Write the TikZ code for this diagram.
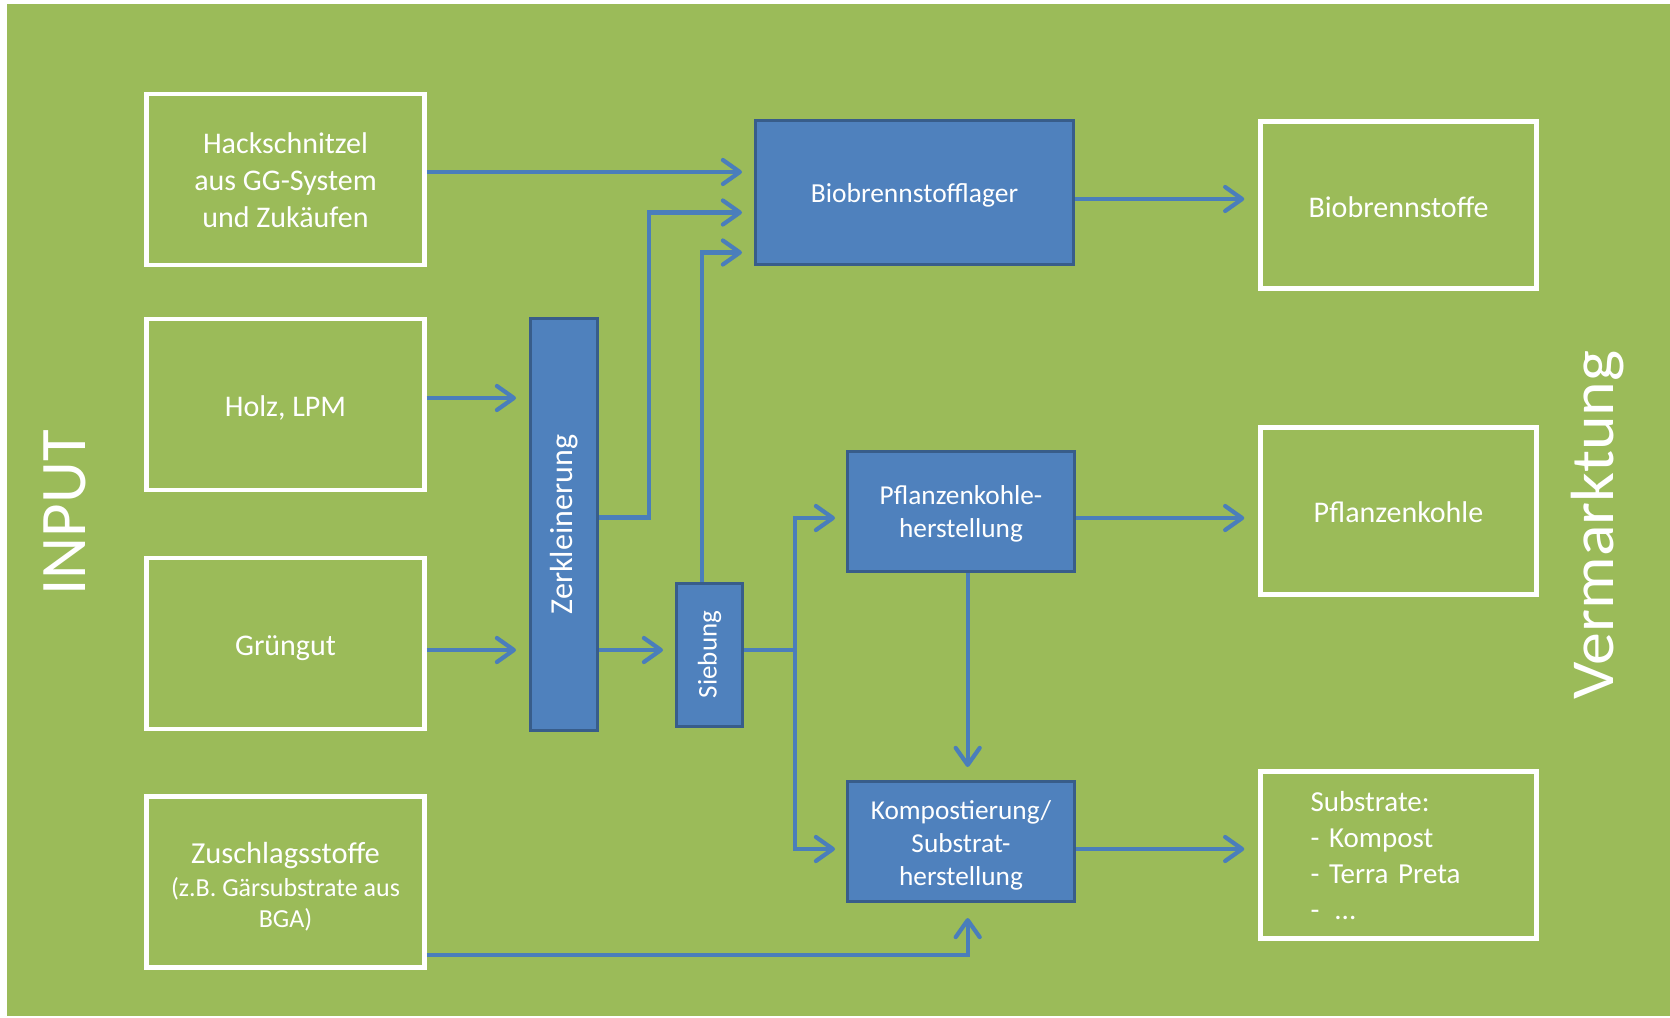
\documentclass[tikz,border=0pt]{standalone}
\usepackage{fontspec}
\setmainfont{Carlito}
\usetikzlibrary{arrows.meta,calc}
\definecolor{bggreen}{HTML}{9BBB59}
\definecolor{boxblue}{HTML}{4F81BD}
\definecolor{boxedge}{HTML}{385D8A}
\definecolor{arrowblue}{HTML}{4A7EBB}
\newcommand{\lowr}[2]{\raisebox{-#1}[\height][\depth]{#2}}
\begin{document}
\begin{tikzpicture}[x=1pt,y=-1pt,
  inbox/.style={draw=white,line width=4.5pt,minimum width=278pt,minimum height=171pt,inner sep=0pt,text=white,align=center,font=\fontsize{30}{36.7}\selectfont},
  outbox/.style={draw=white,line width=4.5pt,minimum width=276pt,minimum height=167pt,inner sep=0pt,text=white,align=center,font=\fontsize{30}{36}\selectfont},
  procbox/.style={draw=boxedge,fill=boxblue,line width=3pt,inner sep=0pt,text=white,align=center,font=\fontsize{27.3}{33}\selectfont},
  sidelabel/.style={text=white,inner sep=0pt,rotate=90,anchor=base},
  arr/.style={draw=arrowblue,line width=4.2pt,-{Straight Barb[length=17pt,width=24pt,round]}}
]
\useasboundingbox (0,0) rectangle (1670,1017);
\fill[white] (0,0) rectangle (1670,1017);
\fill[bggreen] (7,4) rectangle (1670,1016);

% input boxes
\node[inbox] (hack) at (285.5,179.5) {\lowr{0.5pt}{Hackschnitzel}\\\lowr{0.5pt}{aus GG-System}\\\lowr{0.5pt}{und Zukäufen}};
\node[inbox] (holz) at (285.5,404.5) {\lowr{3.2pt}{Holz, LPM}};
\node[inbox] (gruen) at (285.5,643.5) {\lowr{4.2pt}{Grüngut}};
\node[inbox,font=\fontsize{26}{31}\selectfont] (zusch) at (285.5,882) {\lowr{4.3pt}{\fontsize{30.5}{33}\selectfont Zuschlagsstoffe}\\[2pt]\lowr{4.3pt}{(z.B. Gärsubstrate aus}\\\lowr{4.3pt}{BGA)}};

% process boxes
\node[procbox,minimum width=318pt,minimum height=144pt,font=\fontsize{27.5}{33}\selectfont] (lager) at (914.5,192.5) {\lowr{3.2pt}{Biobrennstofflager}};
\node[procbox,minimum width=67pt,minimum height=412pt,font=\fontsize{32}{38}\selectfont] (zerk) at (564,524.5) {\rotatebox{90}{Zerkleinerung}};
\node[procbox,minimum width=66pt,minimum height=143pt,font=\fontsize{27}{33}\selectfont] (sieb) at (709.5,654.5) {\rotatebox{90}{Siebung}};
\node[procbox,minimum width=227pt,minimum height=120pt] (pkh) at (961,511) {\lowr{2.7pt}{Pflanzenkohle-}\\\lowr{2.7pt}{herstellung}};
\node[procbox,minimum width=227pt,minimum height=120pt] (komp) at (961,841.5) {\lowr{3.7pt}{Kompostierung/}\\\lowr{3.7pt}{Substrat-}\\\lowr{3.7pt}{herstellung}};

% output boxes
\node[outbox] (bio) at (1398.5,205) {\lowr{2pt}{Biobrennstoffe}};
\node[outbox] (pk) at (1398.5,510.8) {\lowr{1.5pt}{Pflanzenkohle}};
\node[outbox,align=left,text width=176pt,inner xsep=50pt,font=\fontsize{29}{36}\selectfont] (sub) at (1398.5,855) {\lowr{1pt}{Substrate:}\\\lowr{1pt}{- Kompost}\\\lowr{1pt}{- Terra Preta}\\\lowr{1pt}{-\hspace{15pt}...}};

% side labels
\node[sidelabel,font=\fontsize{65}{70}\selectfont] (input) at (85,513) {INPUT};
\node[sidelabel,font=\fontsize{61}{66}\selectfont] (verm) at (1613,525) {\scalebox{1.08}[1]{Vermarktung}};

% connectors
\draw[arr,shorten >=12pt] ($(hack.east)+(0,-7.5)$) -- ($(lager.west)+(0,-20.5)$);
\draw[arr,shorten >=12pt] ($(zerk.east)+(0,-7)$) -| ($(lager.west)+(-105,20)$) -- ($(lager.west)+(0,20)$);
\draw[arr,shorten >=12pt] ($(sieb.north)+(-7.5,0)$) |- ($(lager.west)+(0,60)$);
\draw[arr,shorten >=13pt] ($(holz.east)+(0,-6.5)$) -- ($(holz.east -| zerk.west)+(0,-6.5)$);
\draw[arr,shorten >=13pt] ($(gruen.east)+(0,6.5)$) -- ($(gruen.east -| zerk.west)+(0,6.5)$);
\draw[arr,shorten >=12pt] ($(zerk.east)+(0,125.5)$) -- ($(sieb.west)+(0,-4.5)$);
\draw[arr,shorten >=11pt] ($(sieb.east)+(0,-4.5)$) -| ($(pkh.west)+(-51,7)$) -- ($(pkh.west)+(0,7)$);
\draw[arr,shorten >=11pt] ($(sieb.east)+(0,-4.5)$) -| ($(komp.west)+(-51,7.5)$) -- ($(komp.west)+(0,7.5)$);
\draw[arr,shorten >=13pt] ($(pkh.south)+(6.7,0)$) -- ($(komp.north)+(6.7,0)$);
\draw[arr,shorten >=15pt] ($(zusch.east)+(0,73)$) -| ($(komp.south)+(6.7,0)$);
\draw[arr,shorten >=14pt] ($(lager.east)+(0,6.5)$) -- ($(bio.west)+(0,-6)$);
\draw[arr,shorten >=14pt] ($(pkh.east)+(0,7)$) -- ($(pk.west)+(0,7.2)$);
\draw[arr,shorten >=14pt] ($(komp.east)+(0,7.5)$) -- ($(sub.west)+(0,-6)$);
\end{tikzpicture}
\end{document}
